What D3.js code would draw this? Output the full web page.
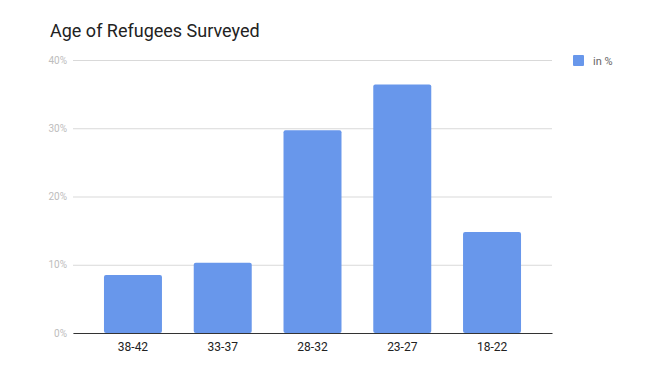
<!DOCTYPE html>
<html>
<head>
<meta charset="utf-8">
<script src="https://cdn.jsdelivr.net/npm/d3@7"></script>
<style>
  body { margin: 0; background: #fff; }
  svg { display: block; font-family: Roboto, "Noto Sans", sans-serif; }
</style>
</head>
<body>
<div id="chart"></div>
<script>
// values
const ageGroups = ['38-42', '33-37', '28-32', '23-27', '18-22'];
const percents = [8.5, 10.3, 29.7, 36.4, 14.8];
const yTicks = [0, 10, 20, 30, 40];
const seriesName = 'in %';

const width = 658, height = 381;
const margin = { top: 60, right: 106, bottom: 48, left: 73 };

const svg = d3.select('#chart').append('svg')
  .attr('width', width)
  .attr('height', height);

const x = d3.scaleBand()
  .domain(ageGroups)
  .range([margin.left, width - margin.right])
  .paddingInner(0.354)
  .paddingOuter(0.345);

const y = d3.scaleLinear()
  .domain([0, 40])
  .range([height - margin.bottom, margin.top]);

// gridlines + y labels
const yAxis = svg.append('g')
  .attr('transform', 'translate(' + margin.left + ',0)')
  .call(d3.axisLeft(y).tickValues(yTicks)
    .tickSize(-(width - margin.left - margin.right))
    .tickPadding(6)
    .tickFormat(d => d + '%'));
yAxis.select('.domain').remove();
yAxis.selectAll('.tick line').attr('stroke', '#d9d9d9');
yAxis.selectAll('.tick text')
  .attr('fill', '#bdbdbd')
  .attr('font-size', '10px')
  .attr('font-family', 'Roboto, sans-serif');

// bars
svg.append('g').selectAll('rect')
  .data(percents)
  .enter()
  .append('rect')
  .attr('x', (d, i) => x(ageGroups[i]))
  .attr('y', d => y(d))
  .attr('width', x.bandwidth())
  .attr('height', d => y(0) - y(d))
  .attr('rx', 2)
  .attr('fill', '#6897eb');

// x axis
const xAxis = svg.append('g')
  .attr('transform', 'translate(0,' + y(0) + ')')
  .call(d3.axisBottom(x).tickSize(0).tickPadding(9));
xAxis.select('.domain').attr('stroke', '#333').attr('stroke-width', 1.2);
xAxis.selectAll('.tick text')
  .attr('fill', '#222')
  .attr('font-size', '12px')
  .attr('font-family', 'Roboto, sans-serif');

// title
svg.append('text')
  .attr('x', 50)
  .attr('y', 37)
  .attr('font-size', '18px')
  .attr('fill', '#222')
  .text('Age of Refugees Surveyed');

// legend
const legend = svg.append('g').attr('transform', 'translate(573,55)');
legend.append('rect')
  .attr('width', 11)
  .attr('height', 11)
  .attr('rx', 1)
  .attr('fill', '#6897eb');
legend.append('text')
  .attr('x', 20)
  .attr('y', 9.5)
  .attr('font-size', '11px')
  .attr('fill', '#666')
  .text(seriesName);
</script>
</body>
</html>
